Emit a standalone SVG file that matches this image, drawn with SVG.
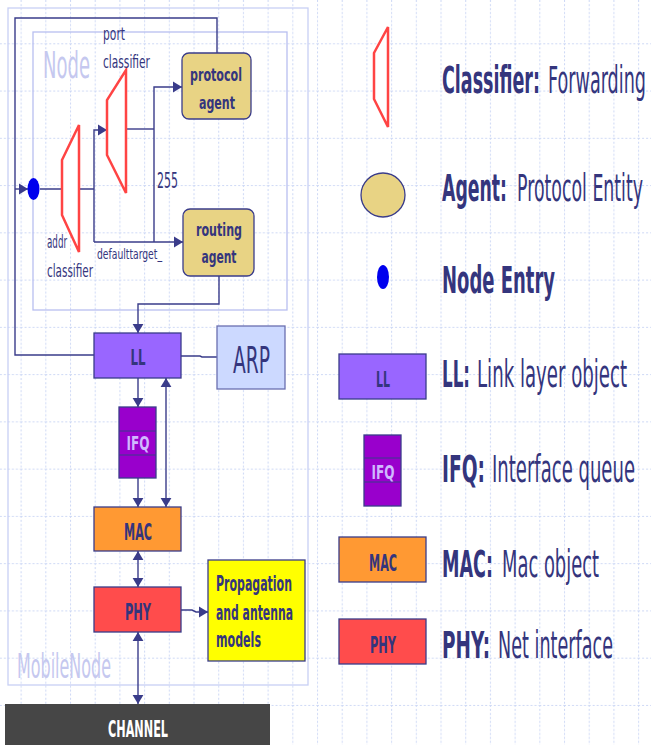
<svg xmlns="http://www.w3.org/2000/svg" width="651" height="745" viewBox="0 0 651 745">
<defs>
<pattern id="grid" patternUnits="userSpaceOnUse" x="20.6" y="43.3" width="24.7" height="47.26">
<line x1="0.5" y1="0" x2="0.5" y2="47.26" stroke="#cdd8f5" stroke-width="1.1" stroke-dasharray="2 2"/>
<line x1="0" y1="0.5" x2="24.7" y2="0.5" stroke="#cdd8f5" stroke-width="1.1" stroke-dasharray="2 2"/>
</pattern>
<marker id="ah" viewBox="0 0 10 12" refX="10" refY="6" markerWidth="9" markerHeight="12" markerUnits="userSpaceOnUse" orient="auto-start-reverse">
<path d="M0,0 L10,6 L0,12 z" fill="#3a3c8a"/>
</marker>
<style>
.t{font-family:"DejaVu Sans","Liberation Sans",sans-serif;fill:#34357d}
.b{font-weight:bold}
.c{fill:none;stroke:#3a3c8a;stroke-width:1.4}
.cls{fill:#fff;stroke:#ff4444;stroke-width:2.5}
.ag{fill:#e8d384;stroke:#3a3c8a;stroke-width:1.3}
.box{stroke:#3a3c8a;stroke-width:1.3}
.lav{font-family:"DejaVu Sans","Liberation Sans",sans-serif;fill:#c5c8ef}
</style>
</defs>
<rect width="651" height="745" fill="#fff"/>
<rect width="651" height="745" fill="url(#grid)"/>

<!-- containers -->
<g id="mobilenode">
<rect x="8" y="8" width="300" height="677" fill="none" stroke="#c8d0f5" stroke-width="1.3"/>
<text class="lav" x="17" y="678" font-size="34" textLength="94" lengthAdjust="spacingAndGlyphs">MobileNode</text>
</g>
<g id="node">
<rect x="33" y="32" width="254" height="278" fill="none" stroke="#b8bff0" stroke-width="1.3"/>
<text class="lav" x="43" y="78" font-size="38" textLength="47" lengthAdjust="spacingAndGlyphs">Node</text>
</g>

<g id="connectors">
<path class="c" d="M94,355 H15 V18 H217 V53"/>
<path class="c" d="M15,189 H28" marker-end="url(#ah)"/>
<path class="c" d="M40,189 H94"/>
<path class="c" d="M94,242 V130 H107" marker-end="url(#ah)"/>
<path class="c" d="M94,242 H183" marker-end="url(#ah)"/>
<path class="c" d="M126,129 H154"/>
<path class="c" d="M154,242 V87 H182" marker-end="url(#ah)"/>
<path class="c" d="M219,276 V304 H138 V333" marker-end="url(#ah)"/>
<path class="c" d="M181,356 H200 L202,357 H217"/>
<path class="c" d="M138,378 V407" marker-end="url(#ah)"/>
<path class="c" d="M166,378 V507" marker-start="url(#ah)" marker-end="url(#ah)"/>
<path class="c" d="M138,478 V507" marker-end="url(#ah)"/>
<path class="c" d="M138,551 V587" marker-start="url(#ah)" marker-end="url(#ah)"/>
<path class="c" d="M181,610 H192 L196,612 H208" marker-end="url(#ah)"/>
<path class="c" d="M138,632 V704" marker-start="url(#ah)" marker-end="url(#ah)"/>
</g>

<g id="entry">
<ellipse cx="33.5" cy="189" rx="6" ry="11" fill="#0000ee"/>
</g>
<g id="addr-classifier">
<polygon class="cls" points="79,125 79,252 62,215 62,160"/>
<text class="t" x="47" y="248" font-size="18" textLength="20" lengthAdjust="spacingAndGlyphs">addr</text>
<text class="t" x="47" y="277" font-size="18" textLength="46" lengthAdjust="spacingAndGlyphs">classifier</text>
</g>
<g id="port-classifier">
<polygon class="cls" points="126,70 126,193 107,155 107,100"/>
<text class="t" x="103" y="40" font-size="18" textLength="22" lengthAdjust="spacingAndGlyphs">port</text>
<text class="t" x="103" y="68" font-size="18" textLength="47" lengthAdjust="spacingAndGlyphs">classifier</text>
</g>
<g id="labels">
<text class="t" x="157" y="188" font-size="21" textLength="21" lengthAdjust="spacingAndGlyphs">255</text>
<text class="t" x="97" y="259" font-size="14" textLength="65" lengthAdjust="spacingAndGlyphs">defaulttarget_</text>
</g>
<g id="protocol-agent">
<rect class="ag" x="182" y="53" width="69" height="66" rx="7"/>
<text class="t b" x="216" y="81" font-size="18" text-anchor="middle" textLength="52" lengthAdjust="spacingAndGlyphs">protocol</text>
<text class="t b" x="217" y="109" font-size="18" text-anchor="middle" textLength="36" lengthAdjust="spacingAndGlyphs">agent</text>
</g>
<g id="routing-agent">
<rect class="ag" x="183" y="209" width="71" height="67" rx="7"/>
<text class="t b" x="219" y="236" font-size="18" text-anchor="middle" textLength="46" lengthAdjust="spacingAndGlyphs">routing</text>
<text class="t b" x="219" y="263" font-size="18" text-anchor="middle" textLength="35" lengthAdjust="spacingAndGlyphs">agent</text>
</g>
<g id="ll">
<rect class="box" x="94" y="333" width="87" height="45" fill="#9966ff"/>
<text class="t b" x="138" y="365" font-size="21" text-anchor="middle" textLength="15" lengthAdjust="spacingAndGlyphs">LL</text>
</g>
<g id="arp">
<rect x="217" y="326" width="68" height="63" fill="#ccd9ff" stroke="#6a6fb0" stroke-width="1.3"/>
<text class="t" x="251.5" y="373" font-size="38" text-anchor="middle" textLength="37" lengthAdjust="spacingAndGlyphs">ARP</text>
</g>
<g id="ifq">
<rect class="box" x="119" y="407" width="37" height="71" fill="#9900cc"/>
<line x1="119" y1="431" x2="156" y2="431" stroke="#3a3c8a" stroke-width="1"/>
<line x1="119" y1="455" x2="156" y2="455" stroke="#3a3c8a" stroke-width="1"/>
<text class="b" x="138" y="450" font-size="20" text-anchor="middle" textLength="23" lengthAdjust="spacingAndGlyphs" fill="#d0b8ff" font-family="DejaVu Sans, sans-serif">IFQ</text>
</g>
<g id="mac">
<rect class="box" x="94" y="507" width="87" height="44" fill="#ff9933"/>
<text class="t b" x="138" y="540" font-size="23" text-anchor="middle" textLength="28" lengthAdjust="spacingAndGlyphs">MAC</text>
</g>
<g id="phy">
<rect class="box" x="94" y="587" width="87" height="45" fill="#ff4c4c"/>
<text class="t b" x="138" y="620" font-size="23" text-anchor="middle" textLength="26" lengthAdjust="spacingAndGlyphs">PHY</text>
</g>
<g id="propagation">
<rect class="box" x="208" y="560" width="97" height="101" fill="#ffff00"/>
<text class="t b" x="216" y="591" font-size="21" textLength="76" lengthAdjust="spacingAndGlyphs">Propagation</text>
<text class="t b" x="216" y="620" font-size="21" textLength="77" lengthAdjust="spacingAndGlyphs">and antenna</text>
<text class="t b" x="216" y="647" font-size="21" textLength="45" lengthAdjust="spacingAndGlyphs">models</text>
</g>
<g id="channel">
<rect x="5" y="704" width="265" height="45" fill="#464646"/>
<text x="138" y="737" font-size="23" font-weight="bold" text-anchor="middle" fill="#fff" font-family="DejaVu Sans, sans-serif" textLength="60" lengthAdjust="spacingAndGlyphs">CHANNEL</text>
</g>

<!-- legend -->
<g id="legend-classifier">
<polygon class="cls" points="388,27 388,127 374,99 374,53"/>
<text class="t b" x="442" y="93" font-size="37" textLength="98" lengthAdjust="spacingAndGlyphs">Classifier:</text>
<text class="t" x="548" y="93" font-size="37" textLength="98" lengthAdjust="spacingAndGlyphs">Forwarding</text>
</g>
<g id="legend-agent">
<circle class="ag" cx="383" cy="195" r="22"/>
<text class="t b" x="442" y="201" font-size="37" textLength="65" lengthAdjust="spacingAndGlyphs">Agent:</text>
<text class="t" x="517" y="201" font-size="37" textLength="126" lengthAdjust="spacingAndGlyphs">Protocol Entity</text>
</g>
<g id="legend-entry">
<ellipse cx="383" cy="277" rx="6" ry="12" fill="#0000ee"/>
<text class="t b" x="442" y="293" font-size="37" textLength="113" lengthAdjust="spacingAndGlyphs">Node Entry</text>
</g>
<g id="legend-ll">
<rect class="box" x="339" y="354" width="87" height="45" fill="#9966ff"/>
<text class="t b" x="383" y="387" font-size="21" text-anchor="middle" textLength="14" lengthAdjust="spacingAndGlyphs">LL</text>
<text class="t b" x="442" y="387" font-size="37" textLength="28" lengthAdjust="spacingAndGlyphs">LL:</text>
<text class="t" x="477" y="387" font-size="37" textLength="150" lengthAdjust="spacingAndGlyphs">Link layer object</text>
</g>
<g id="legend-ifq">
<rect class="box" x="364" y="435" width="37" height="71" fill="#9900cc"/>
<line x1="364" y1="458" x2="401" y2="458" stroke="#3a3c8a" stroke-width="1"/>
<line x1="364" y1="482" x2="401" y2="482" stroke="#3a3c8a" stroke-width="1"/>
<text class="b" x="383" y="479" font-size="20" text-anchor="middle" textLength="23" lengthAdjust="spacingAndGlyphs" fill="#d0b8ff" font-family="DejaVu Sans, sans-serif">IFQ</text>
<text class="t b" x="442" y="482" font-size="37" textLength="43" lengthAdjust="spacingAndGlyphs">IFQ:</text>
<text class="t" x="492" y="482" font-size="37" textLength="143" lengthAdjust="spacingAndGlyphs">Interface queue</text>
</g>
<g id="legend-mac">
<rect class="box" x="339" y="537" width="87" height="45" fill="#ff9933"/>
<text class="t b" x="383" y="571" font-size="23" text-anchor="middle" textLength="28" lengthAdjust="spacingAndGlyphs">MAC</text>
<text class="t b" x="442" y="577" font-size="37" textLength="51" lengthAdjust="spacingAndGlyphs">MAC:</text>
<text class="t" x="502" y="577" font-size="37" textLength="97" lengthAdjust="spacingAndGlyphs">Mac object</text>
</g>
<g id="legend-phy">
<rect class="box" x="339" y="619" width="87" height="45" fill="#ff4c4c"/>
<text class="t b" x="383" y="653" font-size="23" text-anchor="middle" textLength="26" lengthAdjust="spacingAndGlyphs">PHY</text>
<text class="t b" x="442" y="658" font-size="37" textLength="48" lengthAdjust="spacingAndGlyphs">PHY:</text>
<text class="t" x="498" y="658" font-size="37" textLength="115" lengthAdjust="spacingAndGlyphs">Net interface</text>
</g>
</svg>
